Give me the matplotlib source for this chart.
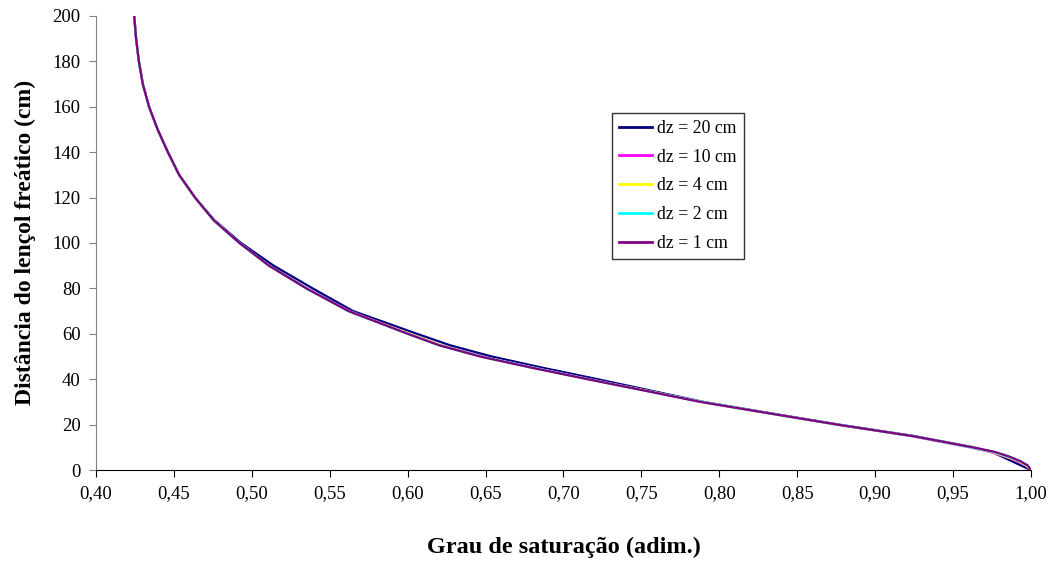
import matplotlib
matplotlib.use("Agg")
import matplotlib.pyplot as plt
from matplotlib.ticker import FuncFormatter, MultipleLocator

# distance above the water table (cm)
dist = [0, 2, 4, 6, 8, 10, 15, 20, 25, 30, 35, 40, 45, 50, 55, 60,
        70, 80, 90, 100, 110, 120, 130, 140, 150, 160, 170, 180, 190, 200]

# degree of saturation for each grid spacing
sat_dz1 = [1.000, 0.998, 0.993, 0.986, 0.977, 0.963, 0.924, 0.876, 0.832, 0.788,
           0.752, 0.7155, 0.680, 0.6465, 0.620, 0.600, 0.562, 0.535, 0.511, 0.492,
           0.4755, 0.4635, 0.4533, 0.4461, 0.4395, 0.434, 0.430, 0.4275, 0.4257, 0.4245]
sat_dz2 = [1.000, 0.998, 0.993, 0.985, 0.976, 0.962, 0.924, 0.876, 0.832, 0.789,
           0.752, 0.716, 0.681, 0.647, 0.620, 0.600, 0.562, 0.535, 0.511, 0.492,
           0.4755, 0.4635, 0.4533, 0.4461, 0.4395, 0.434, 0.430, 0.4275, 0.4257, 0.4245]
sat_dz4 = [1.000, 0.997, 0.992, 0.984, 0.975, 0.962, 0.924, 0.876, 0.832, 0.789,
           0.753, 0.716, 0.681, 0.647, 0.621, 0.601, 0.562, 0.535, 0.511, 0.492,
           0.4755, 0.4635, 0.4533, 0.4461, 0.4395, 0.434, 0.430, 0.4275, 0.4257, 0.4245]
sat_dz10 = [1.000, 0.997, 0.991, 0.983, 0.974, 0.961, 0.923, 0.876, 0.832, 0.789,
            0.753, 0.717, 0.682, 0.648, 0.621, 0.601, 0.563, 0.535, 0.511, 0.492,
            0.4755, 0.4635, 0.4533, 0.4461, 0.4395, 0.434, 0.430, 0.4275, 0.4257, 0.4245]

dist_dz20 = [0, 8, 10, 15, 20, 25, 30, 35, 40, 45, 50, 55, 60,
             70, 80, 90, 100, 110, 120, 130, 140, 150, 160, 170, 180, 190, 200]
sat_dz20 = [1.000, 0.975, 0.963, 0.925, 0.877, 0.833, 0.790, 0.756, 0.722, 0.687,
            0.654, 0.627, 0.606, 0.565, 0.539, 0.514, 0.493, 0.476, 0.4635, 0.4533,
            0.4461, 0.4395, 0.434, 0.430, 0.4275, 0.4257, 0.4245]

series = [
    ("dz = 20 cm", sat_dz20, dist_dz20, "#000080"),
    ("dz = 10 cm", sat_dz10, dist, "#FF00FF"),
    ("dz = 4 cm", sat_dz4, dist, "#FFFF00"),
    ("dz = 2 cm", sat_dz2, dist, "#00FFFF"),
    ("dz = 1 cm", sat_dz1, dist, "#800080"),
]

plt.rcParams["font.family"] = ["Liberation Serif", "DejaVu Serif"]

fig = plt.figure(figsize=(10.54, 5.63), dpi=100)
ax = fig.add_axes([0.0911, 0.165, 0.887, 0.807])

for label, x, y, color in series:
    ax.plot(x, y, color=color, lw=1.6, label=label)

ax.set_xlim(0.40, 1.00)
ax.set_ylim(0, 200)
ax.xaxis.set_major_locator(MultipleLocator(0.05))
ax.yaxis.set_major_locator(MultipleLocator(20))
ax.xaxis.set_major_formatter(FuncFormatter(lambda v, p: f"{v:.2f}".replace(".", ",")))

for side in ("top", "right"):
    ax.spines[side].set_visible(False)
ax.spines["left"].set_color("#808080")
ax.spines["bottom"].set_color("black")
ax.tick_params(direction="out", length=5, labelsize=13.5, pad=6)
ax.tick_params(axis="y", colors="#808080", labelcolor="black")

ax.set_xlabel("Grau de saturação (adim.)", fontsize=17.5, fontweight="bold", labelpad=25)
ax.set_ylabel("Distância do lençol freático (cm)", fontsize=17, fontweight="bold", labelpad=12)

leg = ax.legend(loc="upper left", bbox_to_anchor=(0.5519, 0.7863), fontsize=12.8,
                frameon=True, fancybox=False, handlelength=1.84, borderpad=0.4,
                labelspacing=0.66, handletextpad=0.29, borderaxespad=0)
leg.get_frame().set_edgecolor("black")
leg.get_frame().set_linewidth(1.0)
for line in leg.get_lines():
    line.set_linewidth(2.0)

fig.savefig("out.png", dpi=100)
